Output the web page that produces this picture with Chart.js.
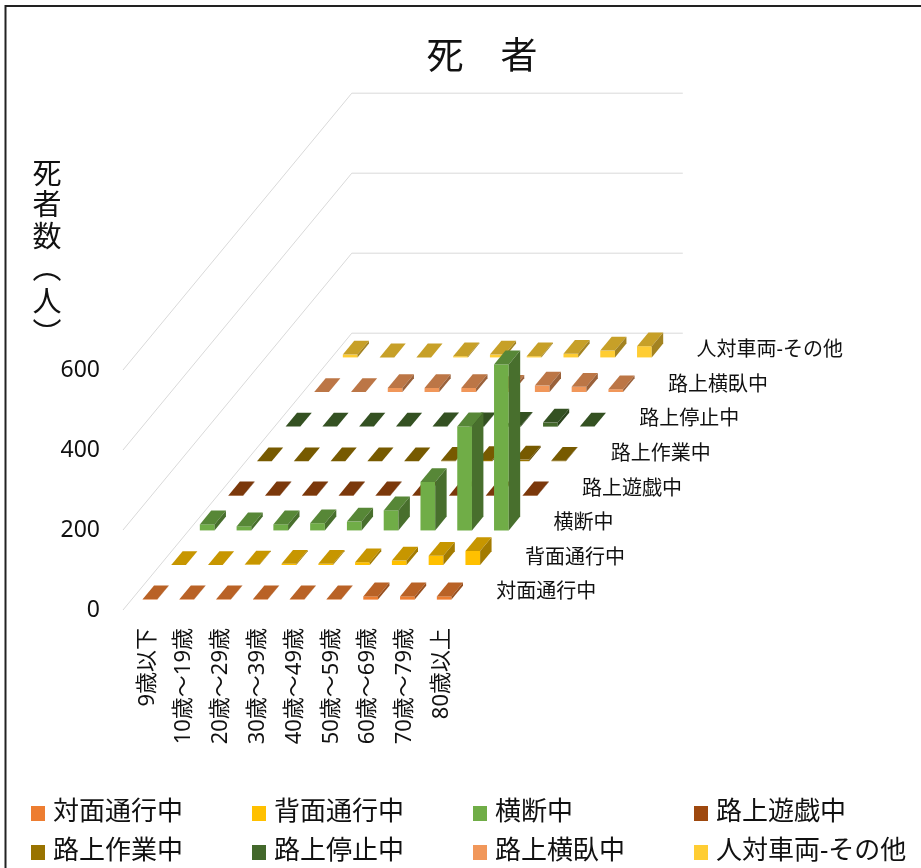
<!DOCTYPE html>
<html lang="ja">
<head>
<meta charset="utf-8">
<title>死者</title>
<script src="https://cdn.jsdelivr.net/npm/chart.js@4.4.1/dist/chart.umd.min.js"></script>
<style>
  html, body { margin: 0; padding: 0; background: #fff; }
  #wrap { width: 921px; height: 868px; }
</style>
</head>
<body>
<div id="wrap"><canvas id="myChart" width="921" height="868"></canvas></div>
<script>
// 年齢層
const ageLabels = ['9歳以下', '10歳～19歳', '20歳～29歳', '30歳～39歳', '40歳～49歳',
                   '50歳～59歳', '60歳～69歳', '70歳～79歳', '80歳以上'];

// 事故類型（手前から奥へ）
const seriesNames = ['対面通行中', '背面通行中', '横断中', '路上遊戯中',
                     '路上作業中', '路上停止中', '路上横臥中', '人対車両-その他'];

// 死者数（人）
const taimenTsuko = [1, 1, 1, 1, 1, 1, 8, 8, 8];
const haimenTsuko = [0, 0, 1, 3, 3, 7, 11, 23, 35];
const odan        = [15, 10, 15, 18, 22, 50, 121, 260, 415];
const rojoYugi    = [1, 1, 1, 1, 1, 1, 1, 1, 1];
const rojoSagyo   = [0, 0, 0, 0, 0, 1, 3, 4, 1];
const rojoTeishi  = [0, 0, 0, 0, 1, 1, 2, 10, 0];
const rojoOga     = [0, 0, 10, 10, 10, 8, 16, 13, 7];
const sonota      = [7, 0, 0, 3, 7, 3, 9, 17, 28];

const yTicks = [0, 200, 400, 600];

const seriesData = [taimenTsuko, haimenTsuko, odan, rojoYugi, rojoSagyo, rojoTeishi, rojoOga, sonota];
const seriesColors = ['#ED7D31', '#FFC000', '#70AD47', '#9E480E', '#997300', '#43682B', '#F1975A', '#FFCD33'];

// one series slot along the depth axis (oblique projection)
const depthX = 28.6, depthY = -34.6;
const barFront = 0.3, barDepth = 0.4;   // fraction of a slot
const FONT = "'Noto Sans', 'Noto Sans CJK JP', sans-serif";
const TEXT = '#111';

function shade(hex, k) {
    const n = parseInt(hex.slice(1), 16);
    const r = Math.round(((n >> 16) & 255) * k);
    const g = Math.round(((n >> 8) & 255) * k);
    const b = Math.round((n & 255) * k);
    return 'rgb(' + r + ',' + g + ',' + b + ')';
}

function poly(ctx, pts, color) {
    ctx.beginPath();
    ctx.moveTo(pts[0][0], pts[0][1]);
    for (let k = 1; k < pts.length; k++) ctx.lineTo(pts[k][0], pts[k][1]);
    ctx.closePath();
    ctx.fillStyle = color;
    ctx.fill();
}

// walls + 3D bars, painted back row first
const bars3d = {
    id: 'bars3d',
    beforeDatasetsDraw(chart) {
        const ctx = chart.ctx, area = chart.chartArea, yScale = chart.scales.y;
        const n = chart.data.datasets.length;
        ctx.save();
        ctx.strokeStyle = '#D9D9D9';
        ctx.lineWidth = 1;
        yTicks.forEach(v => {
            const py = yScale.getPixelForValue(v);
            ctx.beginPath();
            ctx.moveTo(area.left, py);
            ctx.lineTo(area.left + n * depthX, py + n * depthY);
            ctx.lineTo(area.right + n * depthX, py + n * depthY);
            ctx.stroke();
        });
        const p = (px, py, d) => [px + d * depthX, py + d * depthY];
        for (let i = n - 1; i >= 0; i--) {
            const meta = chart.getDatasetMeta(i);
            const color = chart.data.datasets[i].backgroundColor;
            const d0 = i + barFront, d1 = d0 + barDepth;
            meta.data.forEach(bar => {
                const { x, y, base, width } = bar.getProps(['x', 'y', 'base', 'width']);
                const l = x - width / 2, r = x + width / 2;
                poly(ctx, [p(l, y, d0), p(r, y, d0), p(r, base, d0), p(l, base, d0)], color);
                poly(ctx, [p(l, y, d0), p(l, y, d1), p(r, y, d1), p(r, y, d0)], shade(color, 0.78));
                poly(ctx, [p(r, y, d0), p(r, y, d1), p(r, base, d1), p(r, base, d0)], shade(color, 0.64));
            });
        }
        ctx.restore();
        return false;
    }
};

// title, axis title, series names along the depth axis, legend and frame
const decorations = {
    id: 'decorations',
    afterDraw(chart) {
        const ctx = chart.ctx, area = chart.chartArea;
        ctx.save();
        ctx.fillStyle = TEXT;
        ctx.textBaseline = 'middle';

        ctx.textAlign = 'center';
        ctx.font = '37px ' + FONT;
        ctx.fillText('死　者', 482, 58);

        ctx.font = '29px ' + FONT;
        const yTitle = ['死', '者', '数', '︵', '人', '︶'];
        const yPos = [176, 207, 239, 271, 304, 336];
        yTitle.forEach((ch, k) => ctx.fillText(ch, 47, yPos[k]));

        ctx.textAlign = 'left';
        ctx.font = '20px ' + FONT;
        chart.data.datasets.forEach((ds, i) => {
            const x = area.right + (i + 0.5) * depthX + 28;
            const y = area.bottom + (i + 0.5) * depthY;
            ctx.fillText(ds.label, x, y);
        });

        ctx.font = '26px ' + FONT;
        chart.data.datasets.forEach((ds, k) => {
            const col = k % 4, row = Math.floor(k / 4);
            const mx = 31 + col * 221, my = 813 + row * 39;
            ctx.fillStyle = ds.backgroundColor;
            ctx.fillRect(mx, my - 7, 14, 15);
            ctx.fillStyle = TEXT;
            ctx.fillText(ds.label, mx + 22, my);
        });

        ctx.strokeStyle = '#222';
        ctx.lineWidth = 2;
        ctx.strokeRect(5.5, 6, 940, 900);
        ctx.restore();
    }
};

const ctx = document.getElementById('myChart').getContext('2d');

new Chart(ctx, {
    type: 'bar',
    data: {
        labels: ageLabels,
        datasets: seriesNames.map((name, i) => ({
            label: name,
            data: seriesData[i],
            backgroundColor: seriesColors[i],
            grouped: false,
            barPercentage: 0.4,
            categoryPercentage: 1
        }))
    },
    options: {
        responsive: false,
        animation: false,
        events: [],
        layout: { padding: { left: 43, right: 467, top: 370, bottom: 0 } },
        plugins: {
            legend: { display: false },
            title: { display: false },
            tooltip: { enabled: false }
        },
        scales: {
            x: {
                grid: { display: false, drawTicks: false },
                border: { display: false },
                ticks: {
                    autoSkip: false,
                    minRotation: 90,
                    maxRotation: 90,
                    padding: 18,
                    labelOffset: 6,
                    color: TEXT,
                    font: { family: FONT, size: 22 }
                },
                afterFit: s => { s.height = 258; }
            },
            y: {
                min: 0,
                max: 600,
                grid: { display: false, drawTicks: false },
                border: { display: false },
                ticks: {
                    stepSize: 200,
                    padding: 23,
                    color: TEXT,
                    font: { family: FONT, size: 23 }
                },
                afterFit: s => { s.width = 80; }
            }
        }
    },
    plugins: [bars3d, decorations]
});
</script>
</body>
</html>
